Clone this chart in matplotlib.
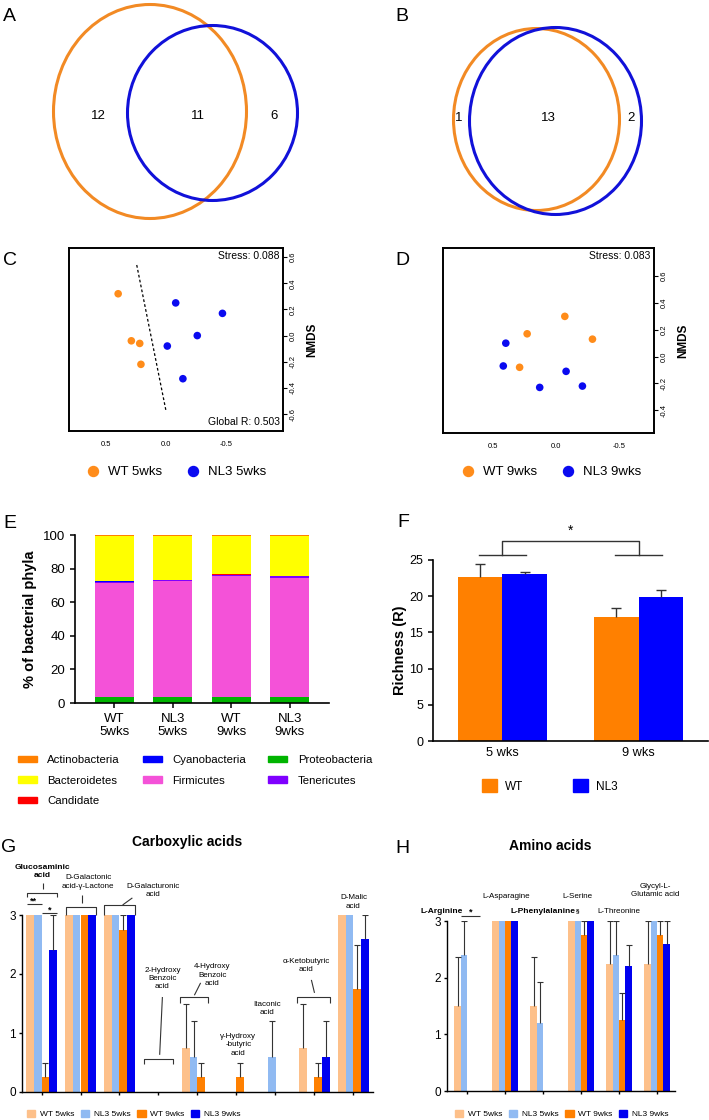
import numpy as np
import matplotlib
matplotlib.use('Agg')
import matplotlib.pyplot as plt
from matplotlib.patches import Ellipse, Patch
from matplotlib.lines import Line2D

plt.rcParams['font.family'] = ['Liberation Sans', 'DejaVu Sans']
plt.rcParams['axes.unicode_minus'] = False

W, H = 709, 1120

# ---------------- data ----------------
# Venn counts: only WT, shared, only NL3
venn_5wks = [12, 11, 6]
venn_9wks = [1, 13, 2]

# NMDS coordinates (axis1, axis2)
nmds5_wt_x = [0.40, 0.29, 0.22, 0.21]
nmds5_wt_y = [0.32, -0.04, -0.06, -0.22]
nmds5_nl3_x = [-0.08, -0.47, -0.26, -0.01, -0.14]
nmds5_nl3_y = [0.25, 0.17, 0.00, -0.08, -0.33]
nmds5_split_x = [0.245, 0.0]
nmds5_split_y = [0.54, -0.58]
nmds9_wt_x = [-0.07, 0.23, -0.29, 0.29]
nmds9_wt_y = [0.30, 0.17, 0.13, -0.08]
nmds9_nl3_x = [0.40, 0.42, 0.13, -0.08, -0.21]
nmds9_nl3_y = [0.10, -0.07, -0.23, -0.11, -0.22]
stress_5wks = 0.088
stress_9wks = 0.083
global_r_5wks = 0.503

# phyla composition (%), stacked bottom -> top
phyla_groups = ['WT\n5wks', 'NL3\n5wks', 'WT\n9wks', 'NL3\n9wks']
proteobacteria = [3.5, 3.5, 3.5, 3.5]
firmicutes = [68.0, 69.0, 72.0, 71.0]
tenericutes = [0.8, 0.7, 0.7, 0.8]
cyanobacteria = [0.1, 0.1, 0.1, 0.1]
candidate = [0.2, 0.2, 0.2, 0.2]
bacteroidetes = [27.0, 26.0, 23.0, 24.0]
actinobacteria = [0.4, 0.5, 0.5, 0.4]

# richness
rich_ages = ['5 wks', '9 wks']
rich_wt = [22.7, 17.1]
rich_wt_err = [1.7, 1.3]
rich_nl3 = [23.0, 19.9]
rich_nl3_err = [0.4, 0.9]

# carboxylic acids (Biolog score)
carb_wt5 = [3, 3, 3, 0, 0.75, 0, 0, 0.75, 3]
carb_wt5_err = [0, 0, 0, 0, 0.75, 0, 0, 0.75, 0]
carb_nl35 = [3, 3, 3, 0, 0.6, 0, 0.6, 0, 3]
carb_nl35_err = [0, 0, 0, 0, 0.6, 0, 0.6, 0, 0]
carb_wt9 = [0.25, 3, 2.75, 0, 0.25, 0.25, 0, 0.25, 1.75]
carb_wt9_err = [0.25, 0, 0.25, 0, 0.25, 0.25, 0, 0.25, 0.75]
carb_nl39 = [2.4, 3, 3, 0, 0, 0, 0, 0.6, 2.6]
carb_nl39_err = [0.6, 0, 0, 0, 0, 0, 0, 0.6, 0.4]

# amino acids
amino_wt5 = [1.5, 3, 1.5, 3, 2.25, 2.25]
amino_wt5_err = [0.87, 0, 0.87, 0, 0.75, 0.75]
amino_nl35 = [2.4, 3, 1.2, 3, 2.4, 3]
amino_nl35_err = [0.6, 0, 0.73, 0, 0.6, 0]
amino_wt9 = [0, 3, 0, 2.75, 1.25, 2.75]
amino_wt9_err = [0, 0, 0, 0.25, 0.48, 0.25]
amino_nl39 = [0, 3, 0, 3, 2.2, 2.6]
amino_nl39_err = [0, 0, 0, 0, 0.37, 0.4]

group_labels = ['WT 5wks', 'NL3 5wks', 'WT 9wks', 'NL3 9wks']
group_colors = ['#FDC08A', '#90BAF2', '#FF8000', '#0000F0']

fig = plt.figure(figsize=(W / 100, H / 100), dpi=100)


def px_axes(x0, y0, x1, y1):
    return fig.add_axes([x0 / W, 1 - y1 / H, (x1 - x0) / W, (y1 - y0) / H])


# panel letters
for letter, lx, ly in [('A', 3, 21), ('B', 395, 21), ('C', 3, 265), ('D', 395, 265),
                       ('E', 3, 528), ('F', 397, 527), ('G', 1, 852), ('H', 395, 853)]:
    fig.text(lx / W, 1 - ly / H, letter, fontsize=14, ha='left', va='baseline')

# ---------------- A / B: Venn ----------------
venn_orange = '#F28A24'
venn_blue = '#1111D9'
axV = px_axes(0, 0, W, 240)
axV.set_xlim(0, W)
axV.set_ylim(240, 0)
axV.axis('off')
# (centre x, centre y, width, height) of each ring in pixels
venn_rings = [((150, 111.5, 193, 214), venn_orange), ((212.5, 113, 170, 175), venn_blue),
              ((536.5, 119.5, 166, 182), venn_orange), ((555.5, 121, 172, 187), venn_blue)]
for (cx, cy, ew, eh), col in venn_rings:
    axV.add_patch(Ellipse((cx, cy), ew, eh, fill=False, ec=col, lw=2.2))
for n, tx in zip(venn_5wks, [98, 198, 274]):
    axV.text(tx, 116, str(n), ha='center', va='center', fontsize=9.5)
for n, tx in zip(venn_9wks, [459, 548, 631]):
    axV.text(tx, 118, str(n), ha='center', va='center', fontsize=9.5)

# ---------------- C / D: NMDS ----------------
nmds_orange = '#FF8C1A'
nmds_blue = '#0A0AF0'


def nmds_panel(box, xlim, ylim, yticks, wx, wy, nx, ny, stress, leg_x, labels):
    ax = px_axes(*box)
    ax.scatter(wx, wy, s=30, color=nmds_orange, edgecolors='none', zorder=3)
    ax.scatter(nx, ny, s=30, color=nmds_blue, edgecolors='none', zorder=3)
    ax.set_xlim(*xlim)
    ax.set_ylim(*ylim)
    ax.set_xticks([0.5, 0.0, -0.5])
    ax.set_xticklabels(['0.5', '0.0', '-0.5'])
    ax.yaxis.tick_right()
    ax.set_yticks(yticks)
    ax.set_yticklabels(['%.1f' % v for v in yticks])
    ax.tick_params(axis='x', length=0, labelsize=5.5, pad=7)
    ax.tick_params(axis='y', length=3, width=0.8, labelsize=5.5, pad=2)
    for t in ax.get_yticklabels():
        t.set_rotation(90)
        t.set_va('center')
        t.set_ha('left')
    for s in ax.spines.values():
        s.set_linewidth(1.4)
    ax.yaxis.set_label_position('right')
    ax.set_ylabel('NMDS', fontweight='bold', fontsize=8.5, labelpad=7)
    ax.text(0.985, 0.985, 'Stress: %.3f' % stress, transform=ax.transAxes,
            ha='right', va='top', fontsize=7.5)
    handles = [Line2D([], [], marker='o', ls='none', color=nmds_orange, markersize=7.2, label=labels[0]),
               Line2D([], [], marker='o', ls='none', color=nmds_blue, markersize=7.2, label=labels[1])]
    fig.legend(handles=handles, ncol=2, loc='center left', bbox_to_anchor=(leg_x / W, 1 - 472 / H),
               frameon=False, fontsize=9.5, handlelength=1.0, handletextpad=0.6, columnspacing=1.9,
               borderpad=0, borderaxespad=0)
    return ax


axC = nmds_panel((69, 248, 283, 431), (0.81, -0.975), (-0.73, 0.67),
                 [-0.6, -0.4, -0.2, 0.0, 0.2, 0.4, 0.6],
                 nmds5_wt_x, nmds5_wt_y, nmds5_nl3_x, nmds5_nl3_y, stress_5wks, 86.4,
                 ['WT 5wks', 'NL3 5wks'])
axC.plot(nmds5_split_x, nmds5_split_y, color='k', lw=0.9, ls=(0, (2.2, 1.8)))
axC.text(0.985, 0.02, 'Global R: %.3f' % global_r_5wks, transform=axC.transAxes,
         ha='right', va='bottom', fontsize=7.5)

axD = nmds_panel((443, 248, 654, 433), (0.90, -0.78), (-0.57, 0.81),
                 [-0.4, -0.2, 0.0, 0.2, 0.4, 0.6],
                 nmds9_wt_x, nmds9_wt_y, nmds9_nl3_x, nmds9_nl3_y, stress_9wks, 461.4,
                 ['WT 9wks', 'NL3 9wks'])

# ---------------- E: phyla stacked bars ----------------
axE = px_axes(75, 535, 329, 703)
stack = [('Proteobacteria', proteobacteria, '#00B400'),
         ('Firmicutes', firmicutes, '#F452D8'),
         ('Tenericutes', tenericutes, '#7F00FF'),
         ('Cyanobacteria', cyanobacteria, '#0000FF'),
         ('Candidate', candidate, '#FF0000'),
         ('Bacteroidetes', bacteroidetes, '#FFFF00'),
         ('Actinobacteria', actinobacteria, '#FF8000')]
xE = np.arange(len(phyla_groups))
bottom = np.zeros(len(phyla_groups))
phyla_handles = {}
for name, vals, col in stack:
    axE.bar(xE, vals, 0.67, bottom=bottom, color=col, linewidth=0)
    bottom += np.array(vals)
    phyla_handles[name] = Patch(color=col, label=name)
axE.set_xlim(-0.67, 3.67)
axE.set_ylim(0, 100)
axE.set_yticks([0, 20, 40, 60, 80, 100])
axE.set_xticks(xE)
axE.set_xticklabels(phyla_groups, linespacing=1.1)
axE.tick_params(labelsize=9.5, length=3.5, width=1.1)
axE.spines['top'].set_visible(False)
axE.spines['right'].set_visible(False)
for s in ['left', 'bottom']:
    axE.spines[s].set_linewidth(1.2)
axE.set_ylabel('% of bacterial phyla', fontweight='bold', fontsize=10.5, labelpad=4)
leg_order = ['Actinobacteria', 'Bacteroidetes', 'Candidate', 'Cyanobacteria',
             'Firmicutes', 'Proteobacteria', 'Tenericutes']
fig.legend(handles=[phyla_handles[n] for n in leg_order], ncol=3, loc='upper left',
           bbox_to_anchor=(18 / W, 1 - 755 / H), frameon=False, fontsize=8.2,
           handlelength=1.67, handleheight=0.5, handletextpad=0.9, columnspacing=2.0,
           labelspacing=0.93, borderpad=0, borderaxespad=0)

# ---------------- F: richness ----------------
axF = px_axes(433, 560, 708, 741)
xF = np.arange(len(rich_ages))
wF = 0.33
capF = 0.037
for off, vals, errs, col in [(-wF / 2, rich_wt, rich_wt_err, '#FF8000'),
                             (wF / 2, rich_nl3, rich_nl3_err, '#0000FF')]:
    axF.bar(xF + off, vals, wF, color=col, linewidth=0)
    tops = np.array(vals) + np.array(errs)
    axF.vlines(xF + off, vals, tops, color='#333333', lw=1.0)
    axF.hlines(tops, xF + off - capF, xF + off + capF, color='#333333', lw=1.0)
axF.set_xlim(-0.51, 1.51)
axF.set_ylim(0, 25)
axF.set_yticks([0, 5, 10, 15, 20, 25])
axF.set_xticks(xF)
axF.set_xticklabels(rich_ages)
axF.tick_params(axis='y', labelsize=9, length=3.5, width=1.1)
axF.tick_params(axis='x', labelsize=9.2, length=0, pad=4)
axF.spines['top'].set_visible(False)
axF.spines['right'].set_visible(False)
for s in ['left', 'bottom']:
    axF.spines[s].set_linewidth(1.2)
axF.set_ylabel('Richness (R)', fontweight='bold', fontsize=10.5, labelpad=2)
for gx in xF:
    axF.plot([gx - 0.17, gx + 0.17], [25.7, 25.7], color='#333333', lw=1.0, clip_on=False)
axF.plot([0, 0, 1, 1], [25.7, 27.6, 27.6, 25.7], color='#333333', lw=1.0, clip_on=False)
axF.text(0.5, 28.0, '*', ha='center', va='bottom', fontsize=10)
fig.legend(handles=[Patch(color='#FF8000', label='WT'), Patch(color='#0000FF', label='NL3')],
           ncol=2, loc='center left', bbox_to_anchor=(482 / W, 1 - 786 / H), frameon=False,
           fontsize=8.5, handlelength=1.27, handleheight=1.35, handletextpad=0.68,
           columnspacing=4.2, borderpad=0, borderaxespad=0)


# ---------------- G / H: Biolog bars ----------------
def biolog_panel(box, xlim, width, offsets, series, cap):
    ax = px_axes(*box)
    n = len(series[0][0])
    x = np.arange(n)
    for off, (vals, errs), col in zip(offsets, series, group_colors):
        ax.bar(x + off, vals, width, color=col, linewidth=0)
        for xi, v, e in zip(x + off, vals, errs):
            if e > 0:
                ax.vlines(xi, v, v + e, color='#333333', lw=0.8)
                ax.hlines(v + e, xi - cap, xi + cap, color='#333333', lw=0.8)
    ax.set_xlim(*xlim)
    ax.set_ylim(0, 3)
    ax.set_yticks([0, 1, 2, 3])
    ax.set_xticks(x)
    ax.set_xticklabels([])
    ax.tick_params(axis='y', labelsize=8.5, length=2.5, width=1.0, pad=2)
    ax.tick_params(axis='x', length=2.5, width=1.0)
    ax.spines['top'].set_visible(False)
    ax.spines['right'].set_visible(False)
    for s in ['left', 'bottom']:
        ax.spines[s].set_linewidth(1.0)
    return ax


def draw_text(ax, items, size):
    made = []
    for txt, tx, ty, weight in items:
        made.append(ax.text(tx, ty, txt, ha='center', va='center', fontsize=size,
                            fontweight=weight, linespacing=1.25, clip_on=False))
    return made


def draw_lines(ax, segs):
    for xs, ys in segs:
        ax.plot(xs, ys, color='#333333', lw=0.8, clip_on=False, solid_capstyle='butt')


axG = biolog_panel((22, 915, 373, 1092), (-0.5, 8.5), 0.2, [-0.3, -0.1, 0.1, 0.3],
                   [(carb_wt5, carb_wt5_err), (carb_nl35, carb_nl35_err),
                    (carb_wt9, carb_wt9_err), (carb_nl39, carb_nl39_err)], 0.077)
fig.text(187 / W, 1 - 842 / H, 'Carboxylic acids', fontweight='bold', fontsize=10,
         ha='center', va='center')
draw_text(axG, [('Glucosaminic\nacid', 0.03, 3.74, 'bold')], 6.0)
draw_text(axG, [('D-Galactonic\nacid-γ-Lactone', 1.2, 3.56, 'normal'),
                ('D-Galacturonic\nacid', 2.85, 3.41, 'normal'),
                ('2-Hydroxy\nBenzoic\nacid', 3.10, 1.92, 'normal'),
                ('4-Hydroxy\nBenzoic\nacid', 4.38, 1.98, 'normal'),
                ('γ-Hydroxy\n-butyric\nacid', 5.05, 0.80, 'normal'),
                ('Itaconic\nacid', 5.79, 1.41, 'normal'),
                ('α-Ketobutyric\nacid', 6.79, 2.14, 'normal'),
                ('D-Malic\nacid', 8.0, 3.22, 'normal')], 5.8)
axG.text(-0.2, 3.20, '**', ha='center', va='baseline', fontsize=6.5, fontweight='bold')
axG.text(0.2, 3.04, '*', ha='center', va='baseline', fontsize=6.5, fontweight='bold')
draw_lines(axG, [
    ([-0.38, -0.38, 0.41, 0.41], [3.30, 3.37, 3.37, 3.30]),
    ([0.03, 0.03], [3.54, 3.44]),
    ([-0.38, 0.0], [3.19, 3.19]),
    ([0.0, 0.41], [3.03, 3.03]),
    ([0.62, 0.62, 1.41, 1.41], [3.0, 3.14, 3.14, 3.0]),
    ([1.05, 1.05], [3.34, 3.20]),
    ([1.59, 1.59, 2.41, 2.41], [3.0, 3.17, 3.17, 3.0]),
    ([2.08, 2.33], [3.17, 3.29]),
    ([2.62, 2.62, 3.36, 3.36], [0.47, 0.56, 0.56, 0.47]),
    ([3.10, 3.03], [1.61, 0.63]),
    ([3.56, 3.56, 4.26, 4.26], [1.51, 1.61, 1.61, 1.51]),
    ([4.08, 3.92], [1.85, 1.64]),
    ([6.56, 6.56, 7.41, 7.41], [1.51, 1.61, 1.61, 1.51]),
    ([6.92, 7.0], [1.90, 1.68]),
])

axH = biolog_panel((447, 921, 675, 1091), (-0.53, 5.47), 0.166, [-0.25, -0.083, 0.083, 0.25],
                   [(amino_wt5, amino_wt5_err), (amino_nl35, amino_nl35_err),
                    (amino_wt9, amino_wt9_err), (amino_nl39, amino_nl39_err)], 0.08)
fig.text(550 / W, 1 - 846 / H, 'Amino acids', fontweight='bold', fontsize=10,
         ha='center', va='center')
arg_txt, phe_txt = draw_text(axH, [('L-Arginine', -0.66, 3.17, 'bold'),
                                   ('L-Phenylalanine', 2.0, 3.17, 'bold')], 6.0)
draw_text(axH, [('L-Asparagine', 1.03, 3.44, 'normal'),
                ('L-Serine', 2.89, 3.44, 'normal'),
                ('L-Threonine', 4.0, 3.17, 'normal'),
                ('Glycyl-L-\nGlutamic acid', 4.95, 3.54, 'normal')], 5.8)
axH.annotate('§', xy=(1.0, 0.95), xycoords=phe_txt, ha='left', va='top',
             fontsize=4.5, fontweight='bold', annotation_clip=False)
axH.text(0.1, 3.12, '*', ha='center', va='baseline', fontsize=6.5, fontweight='bold')
draw_lines(axH, [([-0.16, 0.34], [3.09, 3.09])])

for lx in [27, 455]:
    fig.legend(handles=[Patch(color=c, label=l) for c, l in zip(group_colors, group_labels)],
               ncol=4, loc='center left', bbox_to_anchor=(lx / W, 1 - 1114 / H), frameon=False,
               fontsize=6, handlelength=1.0, handleheight=1.0, handletextpad=0.55,
               columnspacing=0.8, borderpad=0, borderaxespad=0)

fig.savefig('out.png', dpi=100)
